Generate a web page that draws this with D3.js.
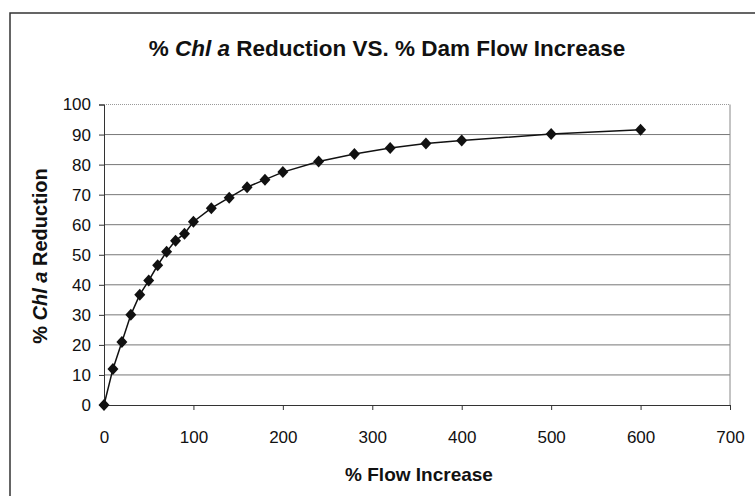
<html>
<script src="https://d3js.org/d3.v7.min.js"></script>
<style>
	body { margin: 0; background: white; }
	text { font-family: "Liberation Sans", Arial, sans-serif; }
</style>
<body>
	<svg id="chart" width="755" height="496"></svg>
	<script>
		// data
		const flowIncrease = [0, 10, 20, 30, 40, 50, 60, 70, 80, 90, 100, 120, 140, 160, 180, 200, 240, 280, 320, 360, 400, 500, 600];
		const chlReduction = [0, 12, 21, 30, 36.7, 41.4, 46.5, 51, 54.7, 57, 61, 65.5, 69, 72.5, 75, 77.5, 81, 83.5, 85.5, 87, 88, 90.2, 91.6];
		const xTicks = [0, 100, 200, 300, 400, 500, 600, 700];
		const yTicks = [0, 10, 20, 30, 40, 50, 60, 70, 80, 90, 100];

		const svg = d3.select('#chart');
		const plotLeft = 104, plotRight = 730, plotTop = 104.5, plotBottom = 405;

		const x = d3.scaleLinear().domain([0, 700]).range([plotLeft, plotRight]);
		const y = d3.scaleLinear().domain([0, 100]).range([plotBottom, plotTop]);

		// outer chart border (runs off the photo on right and bottom)
		svg.append('rect')
			.attr('x', 10).attr('y', 13)
			.attr('width', 900).attr('height', 700)
			.attr('fill', 'white')
			.attr('stroke', '#333').attr('stroke-width', 1.5);

		// gridlines
		svg.append('g')
			.selectAll('line').data(yTicks.filter(d => d > 0)).enter().append('line')
			.attr('x1', plotLeft).attr('x2', plotRight)
			.attr('y1', d => y(d)).attr('y2', d => y(d))
			.attr('stroke', d => d == 100 ? '#999' : '#777')
			.attr('stroke-dasharray', d => d == 100 ? '1,1' : null)
			.attr('stroke-width', 1);

		// right border of plot area
		svg.append('line')
			.attr('x1', plotRight).attr('x2', plotRight)
			.attr('y1', plotTop).attr('y2', plotBottom)
			.attr('stroke', '#888');

		// axes
		svg.append('g')
			.attr('transform', 'translate(0,' + plotBottom + ')')
			.call(d3.axisBottom(x).tickValues(xTicks).tickSize(5).tickPadding(21))
			.call(g => g.select('.domain').attr('stroke', '#333'))
			.call(g => g.selectAll('line').attr('stroke', '#333'))
			.call(g => g.selectAll('text').style('font-size', '17px').attr('fill', '#111'));

		svg.append('g')
			.attr('transform', 'translate(' + plotLeft + ',0)')
			.call(d3.axisLeft(y).tickValues(yTicks).tickSize(5).tickPadding(8))
			.call(g => g.select('.domain').attr('stroke', '#333'))
			.call(g => g.selectAll('line').attr('stroke', '#333'))
			.call(g => g.selectAll('text').style('font-size', '17px').attr('fill', '#111'));

		// series line
		const pts = flowIncrease.map((d, i) => [d, chlReduction[i]]);
		svg.append('path')
			.datum(pts)
			.attr('fill', 'none')
			.attr('stroke', '#111')
			.attr('stroke-width', 1.5)
			.attr('d', d3.line().x(d => x(d[0])).y(d => y(d[1])));

		// diamond markers
		svg.append('g')
			.selectAll('path').data(pts).enter().append('path')
			.attr('transform', d => 'translate(' + x(d[0]) + ',' + y(d[1]) + ')')
			.attr('d', 'M0,-6L5.5,0L0,6L-5.5,0Z')
			.attr('fill', '#111');

		// title
		const title = svg.append('text')
			.attr('x', 387).attr('y', 56)
			.attr('text-anchor', 'middle')
			.style('font-size', '22.5px').style('font-weight', 'bold').attr('fill', '#111');
		title.append('tspan').text('% ');
		title.append('tspan').style('font-style', 'italic').text('Chl a');
		title.append('tspan').text(' Reduction VS. % Dam Flow Increase');

		// x axis title
		svg.append('text')
			.attr('x', 419).attr('y', 481)
			.attr('text-anchor', 'middle')
			.style('font-size', '19px').style('font-weight', 'bold').attr('fill', '#111')
			.text('% Flow Increase');

		// y axis title
		const yt = svg.append('text')
			.attr('transform', 'translate(47,256) rotate(-90)')
			.attr('text-anchor', 'middle')
			.style('font-size', '20px').style('font-weight', 'bold').attr('fill', '#111');
		yt.append('tspan').text('% ');
		yt.append('tspan').style('font-style', 'italic').text('Chl a');
		yt.append('tspan').text(' Reduction');
	</script>
</body>
</html>
